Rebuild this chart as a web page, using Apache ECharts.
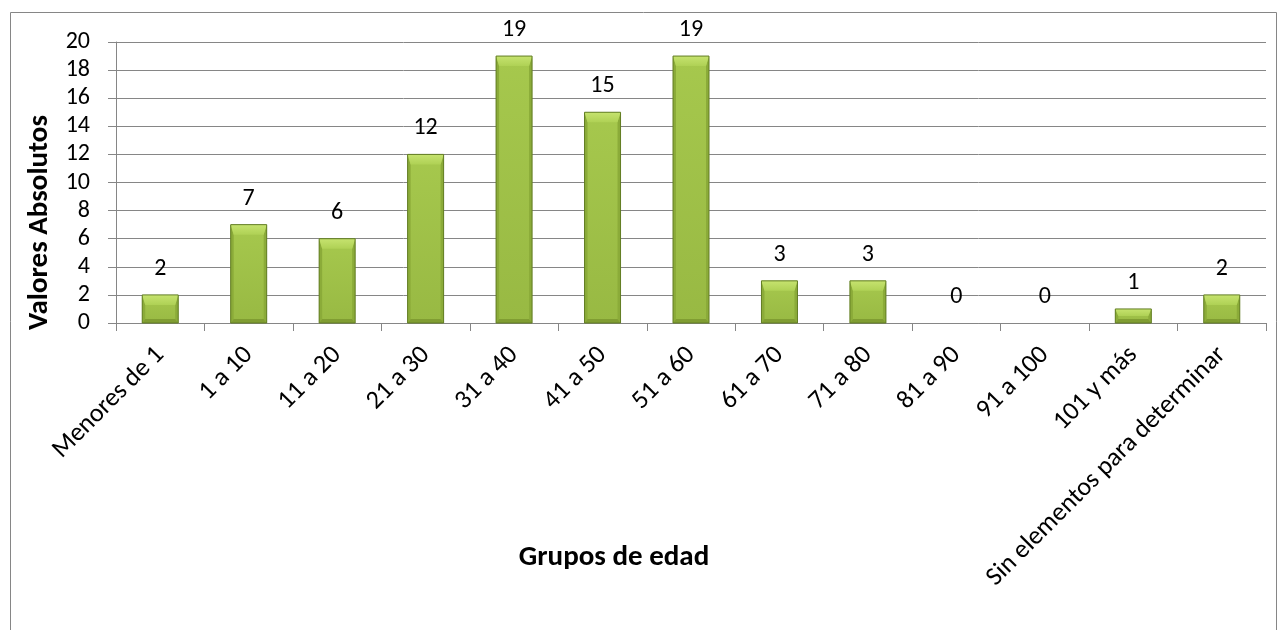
<!DOCTYPE html>
<html><head><meta charset="utf-8">
<script src="https://cdn.jsdelivr.net/npm/echarts@6/dist/echarts.min.js"></script>
<style>html,body{margin:0;padding:0;background:#fff}#c{width:1278px;height:630px}</style>
</head><body><div id="c"></div>
<script>
const categories = ["Menores de 1","1 a 10","11 a 20","21 a 30","31 a 40","41 a 50","51 a 60","61 a 70","71 a 80","81 a 90","91 a 100","101 y más","Sin elementos para determinar"];
const values = [2,7,6,12,19,15,19,3,3,0,0,1,2];
const yTicks = {min:0, max:20, interval:2};
const yName = "Valores Absolutos";
const xName = "Grupos de edad";

const font = "Calibri, Carlito, 'Open Sans', 'Noto Sans', sans-serif";
const BAR_W = 36;
function renderBevelBar(params, api){
  const v = api.value(1);
  const top = api.coord([api.value(0), v]);
  const base = api.coord([api.value(0), 0]);
  const h = base[1] - top[1];
  if (h < 0.5) return null;
  const x0 = top[0] - BAR_W/2, x1 = top[0] + BAR_W/2, y0 = top[1], y1 = base[1];
  const bt = Math.min(10, h/2), bb = Math.min(4, h/2), bs = 3;
  const poly = (pts, fill) => ({type:'polygon', shape:{points:pts}, style:{fill:fill}});
  return {type:'group', children:[
    {type:'rect', shape:{x:x0,y:y0,width:BAR_W,height:h},
      style:{fill:new echarts.graphic.LinearGradient(0,0,0,1,[{offset:0,color:'#a6c84d'},{offset:1,color:'#98b943'}])}},
    poly([[x0,y0],[x0+bs,y0+bt],[x0+bs,y1-bb],[x0,y1]], '#8bab39'),
    poly([[x1,y0],[x1-bs,y0+bt],[x1-bs,y1-bb],[x1,y1]], '#8bab39'),
    poly([[x0,y1],[x1,y1],[x1-bs,y1-bb],[x0+bs,y1-bb]], '#809d32'),
    poly([[x0,y0],[x1,y0],[x1-bs,y0+bt],[x0+bs,y0+bt]],
      new echarts.graphic.LinearGradient(0,0,0,1,[{offset:0,color:'#c6e36f'},{offset:1,color:'#afd155'}])),
    {type:'rect', shape:{x:x0,y:y0,width:BAR_W,height:h}, style:{fill:'none',stroke:'#627d24',lineWidth:1}}
  ]};
}

const chart = echarts.init(document.getElementById('c'));
chart.setOption({
  animation:false,
  graphic:[{type:'rect', shape:{x:10.5,y:12.5,width:1266,height:630}, style:{fill:'none',stroke:'#868686',lineWidth:1}}],
  grid:{left:116,right:12,top:42,bottom:307},
  xAxis:{type:'category',data:categories,boundaryGap:true,
    axisLine:{lineStyle:{color:'#868686'}},
    axisTick:{show:true,length:8,lineStyle:{color:'#868686'}},
    axisLabel:{rotate:45,interval:0,fontSize:26,color:'#000',fontFamily:font,margin:28},
    name:xName,nameLocation:'middle',nameGap:220,nameMoveOverlap:false,
    nameTextStyle:{fontSize:29,fontWeight:'bold',color:'#000',fontFamily:font,padding:[0,154,0,0]}},
  yAxis:{type:'value',min:yTicks.min,max:yTicks.max,interval:yTicks.interval,
    axisLine:{show:true,lineStyle:{color:'#868686'}},
    axisTick:{show:true,length:8,lineStyle:{color:'#868686'}},
    splitLine:{lineStyle:{color:'#868686'}},
    axisLabel:{fontSize:24,color:'#000',fontFamily:font,margin:26},
    name:yName,nameLocation:'middle',nameGap:62,nameMoveOverlap:false,
    nameTextStyle:{fontSize:29,fontWeight:'bold',color:'#000',fontFamily:font,padding:[0,80,0,0]}},
  series:[
    {type:'custom', renderItem:renderBevelBar, data:values.map((v,i)=>[i,v]), encode:{x:0,y:1}, z:2},
    {type:'bar', data:values, barWidth:BAR_W, itemStyle:{color:'rgba(0,0,0,0)'}, silent:true, z:3,
     label:{show:true,position:'top',distance:14,fontSize:24,color:'#000',fontFamily:font}}
  ]
});
</script></body></html>
